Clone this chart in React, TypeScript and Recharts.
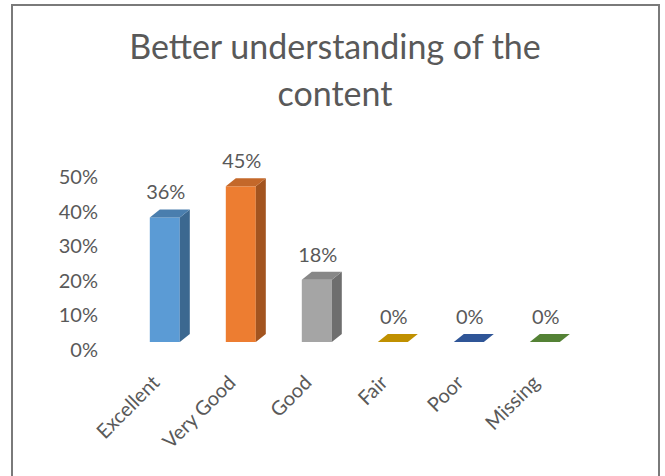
import React from "react";
import { Bar, BarChart, Cell, LabelList, XAxis, YAxis } from "recharts";

const categories = ["Excellent", "Very Good", "Good", "Fair", "Poor", "Missing"];
const shares = [0.36, 0.45, 0.18, 0, 0, 0];
const yTicks = [0, 0.1, 0.2, 0.3, 0.4, 0.5];
const titleLines = ["Better understanding of the", "content"];

// front / top / side shades for each column
const frontColors = ["#5B9BD5", "#ED7D31", "#A5A5A5", "#FFC000", "#4472C4", "#70AD47"];
const topColors = ["#4a7eae", "#c4682a", "#878787", "#c09000", "#2f5597", "#548235"];
const sideColors = ["#3c6890", "#a3541f", "#6e6e6e", "#9a7400", "#26467c", "#44692b"];

const data = categories.map((name, i) => ({ name, value: shares[i] }));

const FONT = "Lato, 'Open Sans', sans-serif";
const TEXT = "#595959";
const DX = 10; // depth offset of the 3d box
const DY = 8;

const Box3D = (props: any) => {
  const { x, y, width, height, index } = props;
  const h = Math.max(0, height || 0);
  const top = `M${x},${y} L${x + DX},${y - DY} L${x + width + DX},${y - DY} L${x + width},${y} Z`;
  const side = `M${x + width},${y} L${x + width + DX},${y - DY} L${x + width + DX},${y + h - DY} L${x + width},${y + h} Z`;
  return (
    <g>
      {h > 0 && <rect x={x} y={y} width={width} height={h} fill={frontColors[index]} />}
      {h > 0 && <path d={side} fill={sideColors[index]} />}
      <path d={top} fill={topColors[index]} />
    </g>
  );
};

const ValueLabel = (props: any) => {
  const { x, y, width, value } = props;
  return (
    <text
      x={x + width / 2 + 1}
      y={y - DY - 10}
      textAnchor="middle"
      fontSize={20}
      fontFamily={FONT}
      fill={TEXT}
    >
      {`${Math.round(value * 100)}%`}
    </text>
  );
};

const YTick = (props: any) => {
  const { x, y, payload } = props;
  return (
    <text x={x} y={y + 8} dy="0.35em" textAnchor="end" fontSize={20} fontFamily={FONT} fill={TEXT}>
      {`${Math.round(payload.value * 100)}%`}
    </text>
  );
};

const XTick = (props: any) => {
  const { x, y, payload } = props;
  return (
    <g transform={`translate(${x - 9},${y + 29}) rotate(-45)`}>
      <text x={0} y={0} dy="0.35em" textAnchor="end" fontSize={20} fontFamily={FONT} fill={TEXT}>
        {payload.value}
      </text>
    </g>
  );
};

export default function App() {
  return (
    <div style={{ position: "absolute", left: 0, top: 0, width: 665, height: 476, background: "#fff", overflow: "hidden" }}>
      <div
        style={{
          position: "absolute",
          left: 11,
          top: 4,
          width: 645,
          height: 490,
          border: "2px solid #7a7a7a",
        }}
      />
      <div
        style={{
          position: "absolute",
          left: 0,
          top: 22,
          width: 670,
          textAlign: "center",
          fontFamily: FONT,
          fontSize: 34,
          lineHeight: "47px",
          color: TEXT,
        }}
      >
        {titleLines.map((t) => (
          <div key={t}>{t}</div>
        ))}
      </div>
      <div style={{ position: "absolute", left: 0, top: 0 }}>
        <BarChart
          width={665}
          height={476}
          data={data}
          margin={{ top: 169, right: 82, bottom: 34, left: 67 }}
          barCategoryGap="30%"
        >
          <XAxis
            dataKey="name"
            axisLine={false}
            tickLine={false}
            height={100}
            interval={0}
            tick={<XTick />}
          />
          <YAxis
            domain={[0, 0.5]}
            ticks={yTicks}
            axisLine={false}
            tickLine={false}
            tickSize={0}
            tickMargin={29}
            width={60}
            tick={<YTick />}
          />
          <Bar dataKey="value" shape={<Box3D />} isAnimationActive={false}>
            {data.map((d, i) => (
              <Cell key={d.name} fill={frontColors[i]} />
            ))}
            <LabelList dataKey="value" content={<ValueLabel />} />
          </Bar>
        </BarChart>
      </div>
    </div>
  );
}
